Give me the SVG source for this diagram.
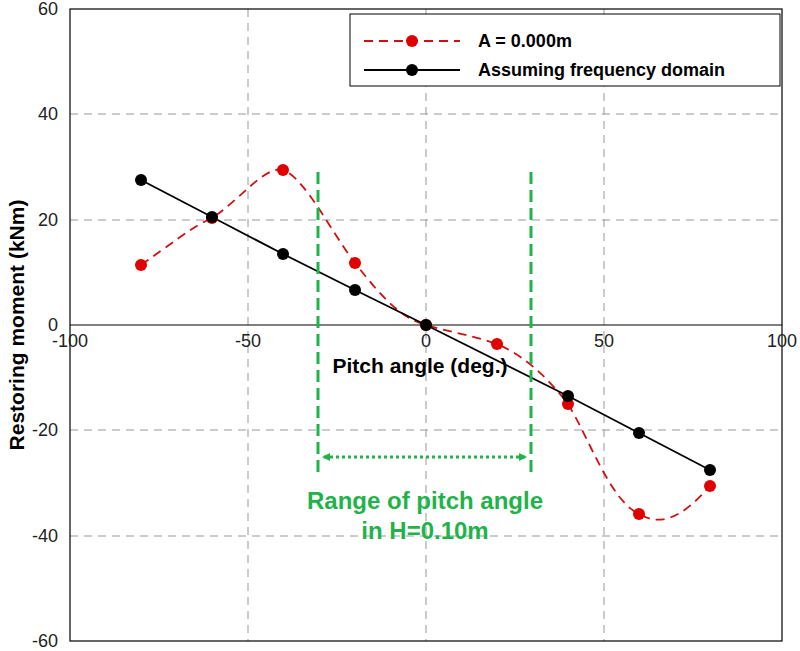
<svg xmlns="http://www.w3.org/2000/svg" width="800" height="651" viewBox="0 0 800 651">
<style>
text{font-family:"Liberation Sans",Arial,sans-serif;}
.tick{font-size:18px;fill:#222;}
.grid{stroke:#999;stroke-width:1;stroke-dasharray:8,6;fill:none;}
.rl{stroke:#d01010;stroke-width:1.8;stroke-dasharray:9,6;fill:none;}
.bl{stroke:#000;stroke-width:1.8;fill:none;}
.rd{fill:#e00000;}
.bd{fill:#000;}
.gr{stroke:#1fb34a;stroke-width:3;fill:none;}
</style>
<defs>
<marker id="ga" markerWidth="8" markerHeight="8" refX="6" refY="4" orient="auto-start-reverse" markerUnits="userSpaceOnUse"><path d="M0,0 L8,4 L0,8 z" fill="#1fb34a"/></marker>
</defs>
<rect width="800" height="651" fill="#fff"/>
<g id="grid">
<path class="grid" d="M248,9V641M426,9V641M604,9V641M70,114H782M70,220H782M70,430H782M70,536H782"/>
</g>
<rect x="70" y="9" width="712" height="632" fill="none" stroke="#000" stroke-width="1.2"/>
<line x1="70" y1="325" x2="782" y2="325" stroke="#000" stroke-width="1.2"/>
<g id="ticks">
<text class="tick" x="58" y="15" text-anchor="end">60</text>
<text class="tick" x="58" y="120" text-anchor="end">40</text>
<text class="tick" x="58" y="226" text-anchor="end">20</text>
<text class="tick" x="58" y="331" text-anchor="end">0</text>
<text class="tick" x="58" y="436" text-anchor="end">-20</text>
<text class="tick" x="58" y="542" text-anchor="end">-40</text>
<text class="tick" x="58" y="647" text-anchor="end">-60</text>
<text class="tick" x="70" y="347" text-anchor="middle">-100</text>
<text class="tick" x="248" y="347" text-anchor="middle">-50</text>
<text class="tick" x="426" y="347" text-anchor="middle">0</text>
<text class="tick" x="604" y="347" text-anchor="middle">50</text>
<text class="tick" x="782" y="347" text-anchor="middle">100</text>
</g>
<text x="420" y="373" text-anchor="middle" font-size="21" font-weight="bold">Pitch angle (deg.)</text>
<text transform="translate(24,325) rotate(-90)" text-anchor="middle" font-size="21" font-weight="bold">Restoring moment (kNm)</text>
<g id="connectors">
<path class="rl" d="M141,265 C170,245 190,228 212,218 C240,200 265,165 283,170 C305,178 330,230 355,263 C380,295 400,318 426,325 C450,332 475,336 497,344 C525,356 548,378 568,404 C590,440 610,500 639,514 C660,526 680,520 710,486"/>
<path class="bl" d="M141,180 L212,217 L283,254 L355,290 L426,325 L568,396 L639,433 L710,470"/>
</g>
<g id="red-points">
<circle class="rd" cx="141" cy="265" r="6"/><circle class="rd" cx="212" cy="218" r="6"/><circle class="rd" cx="283" cy="170" r="6"/><circle class="rd" cx="355" cy="263" r="6"/><circle class="rd" cx="426" cy="325" r="6"/><circle class="rd" cx="497" cy="344" r="6"/><circle class="rd" cx="568" cy="404" r="6"/><circle class="rd" cx="639" cy="514" r="6"/><circle class="rd" cx="710" cy="486" r="6"/>
</g>
<g id="black-points">
<circle class="bd" cx="141" cy="180" r="6"/><circle class="bd" cx="212" cy="217" r="6"/><circle class="bd" cx="283" cy="254" r="6"/><circle class="bd" cx="355" cy="290" r="6"/><circle class="bd" cx="426" cy="325" r="6"/><circle class="bd" cx="568" cy="396" r="6"/><circle class="bd" cx="639" cy="433" r="6"/><circle class="bd" cx="710" cy="470" r="6"/>
</g>
<g id="range">
<path class="gr" stroke-dasharray="12,6" d="M318,172V473M531,172V473"/>
<line x1="324" y1="457" x2="525" y2="457" stroke="#1fb34a" stroke-width="3" stroke-dasharray="3,3" marker-start="url(#ga)" marker-end="url(#ga)"/>
<text x="425" y="509" text-anchor="middle" font-size="24" font-weight="bold" fill="#1fb34a">Range of pitch angle</text>
<text x="425" y="539" text-anchor="middle" font-size="24" font-weight="bold" fill="#1fb34a">in H=0.10m</text>
</g>
<g id="legend">
<rect x="350" y="14" width="430" height="72" fill="#fff" stroke="#000" stroke-width="1"/>
<line x1="364" y1="41" x2="460" y2="41" class="rl"/>
<circle class="rd" cx="412" cy="41" r="6"/>
<text x="478" y="47" font-size="18" font-weight="bold">A = 0.000m</text>
<line x1="364" y1="70" x2="460" y2="70" class="bl"/>
<circle class="bd" cx="412" cy="70" r="6"/>
<text x="478" y="76" font-size="18" font-weight="bold">Assuming frequency domain</text>
</g>
</svg>
